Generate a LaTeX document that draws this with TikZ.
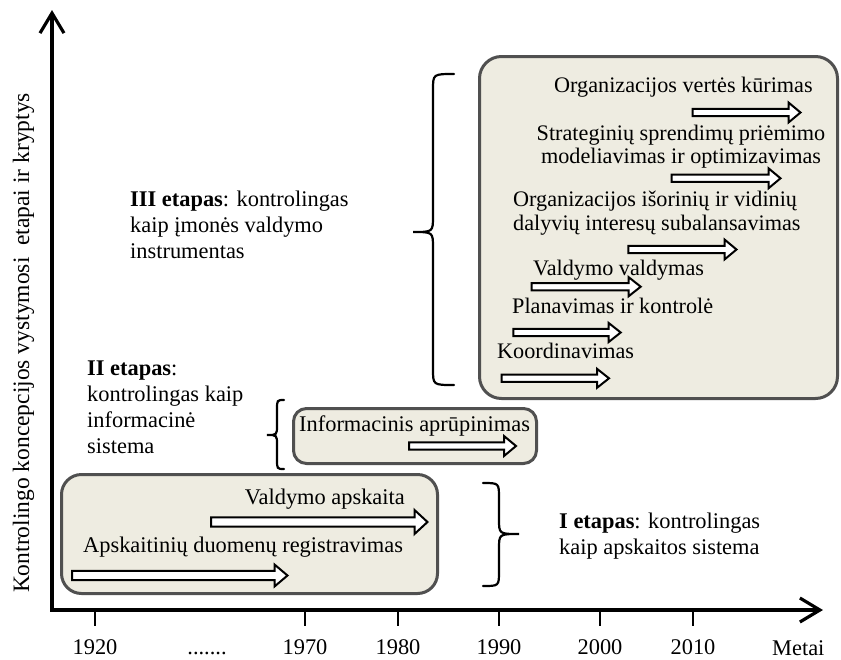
\documentclass[tikz,border=0pt]{standalone}
\usepackage{fontspec}
\setmainfont{Liberation Serif}
\usetikzlibrary{arrows.meta}
\definecolor{boxfill}{HTML}{EEECE1}
\definecolor{boxline}{HTML}{505050}
% #1 start x, #2 tip x, #3 centre y, #4 body half height, #5 head half height, #6 head length
\newcommand\blkarrow[6]{%
  \draw[blockarrow] ({#1},{#3-#4}) -- ({#2-#6},{#3-#4}) -- ({#2-#6},{#3-#5}) -- ({#2},{#3})
    -- ({#2-#6},{#3+#5}) -- ({#2-#6},{#3+#4}) -- ({#1},{#3+#4}) -- cycle;}
% #1 end x, #2 spine x, #3 tip x, #4 top y, #5 tip y, #6 bottom y, #7 bend
\newcommand\mybrace[7]{%
  \draw[bracestyle] ({#1},{#4}) .. controls ({#2},{#4}) .. ({#2},{#4+#7}) -- ({#2},{#5-#7})
    .. controls ({#2},{#5}) .. ({#3},{#5}) .. controls ({#2},{#5}) .. ({#2},{#5+#7})
    -- ({#2},{#6-#7}) .. controls ({#2},{#6}) .. ({#1},{#6});}
\tikzset{
  txt/.style={font=\fontsize{22.4}{25.8}\selectfont, inner sep=0pt},
  tighttxt/.style={font=\fontsize{22.2}{23.4}\selectfont, inner sep=0pt},
  stagebox/.style={draw=boxline, fill=boxfill, line width=3pt, rounded corners=20pt, inner sep=0pt},
  blockarrow/.style={draw=black, fill=white, line width=2pt, line join=miter},
  bracestyle/.style={draw=black, line width=2.2pt, line cap=round},
  axisline/.style={line width=3.2pt, line join=miter},
  tickline/.style={line width=2.6pt},
}
\begin{document}
\begin{tikzpicture}[x=1pt,y=-1pt]
\useasboundingbox (0,0) rectangle (841,659);

% axes
\coordinate (ytip) at (52,10);
\coordinate (origin) at (52,610);
\coordinate (xtip) at (823,610);
\draw[axisline, {Straight Barb[length=20pt,width=24pt]}-{Straight Barb[length=20pt,width=24pt]}] (ytip) -- (origin) -- (xtip);

% ticks and year labels
\foreach \xx/\lab in {95/1920, 305/1970, 398/1980, 499/1990, 600/2000, 693/2010}{
  \draw[tickline] (\xx,610) -- (\xx,626);
  \node[txt, anchor=base] (y\lab) at (\xx,654) {\lab};
}
\node[txt, anchor=base] (dots) at (207,654) {.......};
\node[txt, anchor=base west] (metai) at (772,655) {Metai};

% y-axis label
\node[txt, font=\fontsize{23.5}{26}\selectfont, rotate=90, anchor=base] (ylabel) at (29,343)
  {Kontrolingo koncepcijos vystymosi\ \ etapai ir kryptys};

% boxes
\node[stagebox, rounded corners=22pt, minimum width=358pt, minimum height=342pt] (box3) at (658.5,227.5) {};
\node[stagebox, rounded corners=13pt, minimum width=243pt, minimum height=55pt] (box2) at (415,436) {};
\node[stagebox, minimum width=376pt, minimum height=119pt] (box1) at (249.5,534) {};

% stage III arrows
\blkarrow{692.7}{800.5}{112.5}{3.6}{10}{12}
\blkarrow{671.7}{780.5}{178.3}{3.6}{10}{12}
\blkarrow{628.3}{736.5}{249.5}{3.6}{10}{12}
\blkarrow{531.7}{640.7}{286.7}{3.6}{9.5}{12}
\blkarrow{513.3}{620.7}{332.5}{3.6}{9.5}{12}
\blkarrow{501.7}{609}{378.3}{3.6}{9.5}{12}
% stage II arrow
\blkarrow{409}{516}{446}{3.6}{10}{12}
% stage I arrows
\blkarrow{211}{427.5}{522}{4.6}{12}{13}
\blkarrow{72}{287.5}{575.5}{4.6}{11}{13}

% stage III texts (multi-line nodes: base anchor = last line)
\node[tighttxt, anchor=base west] (k1) at (554,92) {Organizacijos vertės kūrimas};
\node[tighttxt, anchor=base, align=center] (k2) at (681,163.5) {Strateginių sprendimų priėmimo\\modeliavimas ir optimizavimas};
\node[tighttxt, anchor=base west, align=left] (k3) at (513,230) {Organizacijos išorinių ir vidinių\\dalyvių interesų subalansavimas};
\node[tighttxt, anchor=base west] (k4) at (533,275) {Valdymo valdymas};
\node[tighttxt, anchor=base west] (k5) at (512,313) {Planavimas ir kontrolė};
\node[tighttxt, anchor=base west] (k6) at (497,358) {Koordinavimas};
% stage II text
\node[txt, anchor=base west] (k7) at (299,431) {Informacinis aprūpinimas};
% stage I texts
\node[txt, anchor=base east] (k8) at (405,504) {Valdymo apskaita};
\node[txt, anchor=base west] (k9) at (83,552) {Apskaitinių duomenų registravimas};

% stage descriptions
\node[txt, anchor=base west, align=left] (st3) at (130,258) {\textbf{III etapas}: kontrolingas\\kaip įmonės valdymo\\instrumentas};
\node[txt, anchor=base west, align=left] (st2) at (87,453) {\textbf{II etapas}:\\kontrolingas kaip\\informacinė\\sistema};
\node[txt, anchor=base west, align=left] (st1) at (559,554) {\textbf{I etapas}: kontrolingas\\kaip apskaitos sistema};

% braces
\mybrace{454}{433}{413}{74}{232}{385}{16}
\mybrace{284}{277}{267}{400}{435}{469}{10}
\mybrace{483}{499}{519}{483}{534}{586}{15}
\end{tikzpicture}
\end{document}
